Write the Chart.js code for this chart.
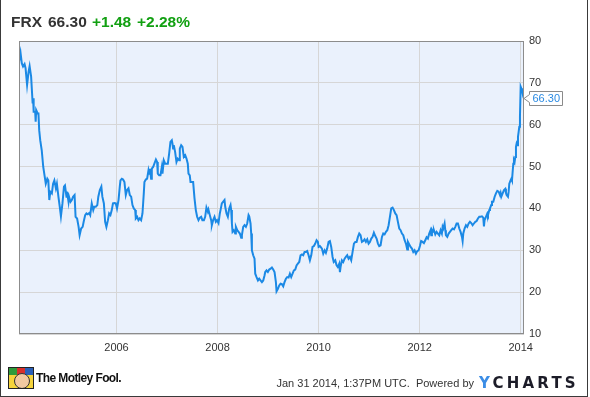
<!DOCTYPE html>
<html><head><meta charset="utf-8">
<script src="https://cdn.jsdelivr.net/npm/chart.js@4.4.1/dist/chart.umd.min.js"></script>
<style>
html,body{margin:0;padding:0;background:#fff;}
#wrap{position:relative;width:590px;height:397px;overflow:hidden;font-family:'Liberation Sans',Arial,Helvetica,sans-serif;}
#c{position:absolute;left:0;top:0;}
#frame{position:absolute;left:0;top:0;width:586px;height:396px;border-left:1px solid #3a3a3a;border-right:1px solid #3a3a3a;border-bottom:1px solid #3a3a3a;pointer-events:none;}
.hd{position:absolute;top:13.5px;font-size:15.5px;line-height:15.5px;font-weight:bold;white-space:nowrap;}
.dark{color:#333;}
.green{color:#12a012;}
#logo{position:absolute;left:8px;top:367px;width:24px;height:20px;border:1px solid #222;overflow:hidden;background:#f6d43c;}
#logo .a{position:absolute;left:0;top:0;width:8px;height:7px;background:#2f9a3a;}
#logo .b{position:absolute;left:8px;top:0;width:8px;height:7px;background:#d9302c;}
#logo .c{position:absolute;left:16px;top:0;width:8px;height:7px;background:#2a5fb8;}
#logo .f{position:absolute;left:5px;top:5px;width:14px;height:14px;border-radius:50%;background:#f2c9a0;border:1px solid #333;}
#fool{position:absolute;left:36px;top:371.5px;font-size:12px;line-height:12px;font-weight:bold;letter-spacing:-0.6px;color:#111;white-space:nowrap;}
#stamp{position:absolute;right:116px;top:378px;font-size:11px;line-height:11px;color:#333;white-space:nowrap;}
#yc{position:absolute;left:479px;top:375.5px;font-family:'DejaVu Sans',sans-serif;font-size:15px;line-height:15px;font-weight:bold;letter-spacing:3.2px;color:#1c1c28;white-space:nowrap;}
#yc .y{color:#3b8de6;}
</style>
</head><body>
<div id="wrap">
<canvas id="c" width="590" height="397"></canvas>
<span class="hd dark" style="left:11px">FRX</span>
<span class="hd dark" style="left:48px">66.30</span>
<span class="hd green" style="left:92px">+1.48</span>
<span class="hd green" style="left:137px">+2.28%</span>
<div id="logo"><div class="a"></div><div class="b"></div><div class="c"></div><div class="f"></div></div>
<span id="fool">The Motley Fool.</span>
<span id="stamp">Jan 31 2014, 1:37PM UTC.&nbsp; Powered by</span>
<span id="yc"><span class="y">Y</span>CHARTS</span>
<div id="frame"></div>
</div>
<script>
const dates = [
2004.07,2004.10,2004.125,2004.15,2004.18,2004.20,2004.23,2004.26,2004.28,2004.31,
2004.34,2004.35,2004.36,2004.39,2004.40,2004.41,2004.44,2004.455,2004.47,2004.49,
2004.52,2004.55,2004.57,2004.60,2004.63,2004.65,2004.67,2004.69,2004.72,2004.745,
2004.77,2004.80,2004.82,2004.85,2004.877,2004.90,2004.93,2004.96,2004.98,2005.01,
2005.02,2005.05,2005.06,2005.09,2005.115,2005.14,2005.17,2005.19,2005.22,2005.25,
2005.27,2005.30,2005.33,2005.35,2005.38,2005.405,2005.43,2005.46,2005.48,2005.51,
2005.54,2005.56,2005.59,2005.62,2005.64,2005.67,2005.70,2005.72,2005.75,2005.775,
2005.80,2005.83,2005.854,2005.88,2005.906,2005.93,2005.96,2005.986,2006.01,2006.04,
2006.065,2006.078,2006.105,2006.13,2006.157,2006.184,2006.21,2006.237,2006.263,2006.29,
2006.316,2006.342,2006.37,2006.382,2006.408,2006.435,2006.46,2006.487,2006.514,2006.54,
2006.553,2006.58,2006.606,2006.633,2006.646,2006.66,2006.685,2006.699,2006.725,2006.75,
2006.78,2006.804,2006.817,2006.844,2006.87,2006.897,2006.91,2006.936,2006.963,2006.989,
2007.016,2007.042,2007.068,2007.095,2007.108,2007.12,2007.134,2007.16,2007.187,2007.213,
2007.24,2007.253,2007.28,2007.306,2007.332,2007.36,2007.385,2007.411,2007.425,2007.45,
2007.465,2007.49,2007.517,2007.544,2007.57,2007.596,2007.623,2007.65,2007.676,2007.70,
2007.73,2007.755,2007.78,2007.808,2007.82,2007.847,2007.874,2007.887,2007.913,2007.94,
2007.966,2007.99,2008.019,2008.045,2008.059,2008.085,2008.112,2008.138,2008.152,2008.178,
2008.204,2008.231,2008.257,2008.27,2008.284,2008.297,2008.323,2008.35,2008.363,2008.39,
2008.416,2008.442,2008.468,2008.482,2008.508,2008.534,2008.561,2008.587,2008.614,2008.627,
2008.653,2008.666,2008.68,2008.706,2008.732,2008.746,2008.772,2008.8,2008.825,2008.851,
2008.878,2008.904,2008.93,2008.944,2008.97,2008.996,2009.023,2009.05,2009.076,2009.102,
2009.128,2009.155,2009.168,2009.195,2009.221,2009.247,2009.274,2009.3,2009.326,2009.353,
2009.379,2009.406,2009.432,2009.458,2009.485,2009.511,2009.538,2009.564,2009.59,2009.617,
2009.643,2009.67,2009.696,2009.722,2009.749,2009.775,2009.802,2009.828,2009.855,2009.88,
2009.907,2009.934,2009.96,2009.986,2010.0,2010.026,2010.04,2010.066,2010.092,2010.12,
2010.145,2010.17,2010.198,2010.224,2010.25,2010.277,2010.3,2010.33,2010.356,2010.38,
2010.409,2010.422,2010.435,2010.462,2010.488,2010.515,2010.54,2010.567,2010.594,2010.62,
2010.646,2010.673,2010.7,2010.726,2010.752,2010.779,2010.805,2010.831,2010.858,2010.884,
2010.91,2010.937,2010.963,2010.99,2011.016,2011.043,2011.069,2011.095,2011.122,2011.148,
2011.175,2011.2,2011.227,2011.254,2011.28,2011.307,2011.333,2011.36,2011.386,2011.412,
2011.438,2011.465,2011.491,2011.518,2011.544,2011.57,2011.597,2011.623,2011.65,2011.676,
2011.703,2011.729,2011.755,2011.769,2011.795,2011.821,2011.848,2011.874,2011.9,2011.927,
2011.953,2011.98,2012.006,2012.03,2012.059,2012.085,2012.112,2012.138,2012.164,2012.19,
2012.217,2012.23,2012.244,2012.27,2012.283,2012.31,2012.336,2012.362,2012.389,2012.415,
2012.44,2012.455,2012.468,2012.494,2012.508,2012.52,2012.547,2012.574,2012.6,2012.626,
2012.653,2012.68,2012.706,2012.732,2012.758,2012.785,2012.811,2012.838,2012.851,2012.864,
2012.89,2012.917,2012.943,2012.97,2012.996,2013.022,2013.049,2013.075,2013.102,2013.128,
2013.154,2013.18,2013.207,2013.234,2013.26,2013.273,2013.286,2013.313,2013.34,2013.353,
2013.379,2013.392,2013.418,2013.432,2013.458,2013.485,2013.511,2013.537,2013.564,2013.59,
2013.603,2013.617,2013.643,2013.67,2013.696,2013.709,2013.722,2013.749,2013.762,2013.775,
2013.8,2013.815,2013.828,2013.841,2013.854,2013.867,2013.88,2013.894,2013.907,2013.92,
2013.933,2013.947,2013.96,2013.973,2013.986,2014.0,2014.013,2014.026,2014.039,2014.052,
2014.066
];
const prices = [
75.1,77.2,74.7,73.9,74.5,73.5,69.5,72.7,74.0,71.5,
65.1,66.3,63.1,63.1,60.7,63.5,62.7,62.7,58.7,56.3,
53.9,49.9,48.3,45.9,47.1,46.7,42.0,44.0,43.6,45.9,
46.7,44.8,45.9,42.8,40.4,38.1,41.2,45.2,45.5,42.8,
44.0,41.6,42.8,41.6,42.0,42.8,43.2,38.0,37.6,35.6,
33.6,35.2,35.6,36.8,38.4,38.8,38.6,38.9,38.4,41.2,
39.6,40.4,40.4,40.8,42.8,44.4,45.2,42.8,41.2,36.8,
35.6,37.2,38.8,38.4,39.6,41.2,41.3,41.2,40.0,42.0,
45.2,46.7,47.1,46.9,46.3,43.2,44.4,44.8,43.2,42.8,
40.8,40.0,39.6,37.6,38.0,37.2,37.6,37.2,38.8,43.6,
46.3,46.9,47.1,49.1,48.3,49.5,47.1,49.5,49.9,50.7,
51.7,51.1,48.3,47.9,47.9,49.9,48.3,51.5,50.7,50.7,
50.7,53.1,55.9,56.3,55.5,54.3,55.1,53.5,51.1,51.9,
51.5,54.3,55.1,54.7,52.3,52.7,51.9,50.7,48.3,47.9,
46.3,46.3,46.3,42.4,39.6,38.0,37.2,37.8,38.0,37.2,
37.2,38.0,40.2,39.2,39.7,38.4,37.2,36.0,37.2,38.0,
36.8,37.2,36.5,38.8,39.6,41.2,41.6,42.0,40.4,38.8,
38.0,40.0,40.8,39.6,36.4,34.4,34.8,34.0,35.6,34.8,
34.4,34.0,33.0,33.6,35.6,36.0,35.6,36.4,38.4,38.1,
36.4,34.0,30.0,28.8,28.0,24.4,23.6,22.8,23.2,22.8,
22.4,22.8,24.0,24.8,25.2,24.8,25.4,25.6,25.9,25.4,
24.8,22.4,20.2,20.8,21.6,22.0,21.9,21.4,22.4,23.2,
23.6,23.5,24.4,23.6,24.4,25.2,25.4,26.4,26.8,27.2,
28.8,29.0,28.8,29.6,29.6,29.8,28.8,27.6,28.8,30.8,
31.0,31.6,32.4,32.0,30.8,31.0,30.8,30.4,29.2,30.0,
29.4,30.4,32.0,32.2,30.8,28.4,27.2,27.6,26.4,26.0,
26.8,24.8,26.0,27.6,27.2,28.0,28.4,28.8,28.0,28.4,
27.6,29.6,31.6,32.0,32.0,33.2,34.0,33.6,32.0,32.2,
32.6,32.0,32.6,31.6,32.0,32.8,33.2,34.2,33.4,32.8,
31.6,31.0,31.2,33.2,34.0,33.8,34.4,34.8,36.0,38.0,
40.0,40.2,39.6,38.8,38.4,36.8,35.2,34.8,34.0,33.6,
32.4,31.6,30.2,32.0,31.4,30.8,30.4,29.6,30.0,29.2,
29.8,30.0,31.0,32.2,32.0,31.7,32.4,33.1,32.8,34.0,
34.8,33.6,34.9,34.4,34.8,33.8,34.4,34.0,33.6,34.8,
34.0,35.6,35.2,36.4,34.8,33.6,33.2,34.0,34.4,34.8,
35.2,35.0,35.6,36.4,36.4,35.2,34.4,33.2,32.2,34.0,
35.2,36.0,35.6,36.4,36.8,36.5,36.0,36.4,36.8,37.0,
37.6,38.0,38.0,38.1,37.8,35.7,37.2,38.0,38.8,38.4,
39.6,40.0,40.8,41.6,41.6,42.8,43.6,44.2,44.0,43.2,
43.7,42.8,43.6,44.4,44.7,43.7,43.2,42.8,44.0,45.9,
46.7,47.1,46.7,48.7,50.7,51.5,51.1,52.3,54.7,55.5,
55.1,57.1,58.3,59.5,61.9,69.1,68.7,68.3,67.5,66.7,
66.3
];
const xTicks = [2006, 2008, 2010, 2012, 2014];
const yTicks = [10, 20, 30, 40, 50, 60, 70, 80];

const points = dates.map((d, i) => ({x: d, y: prices[i]}));

const plotBg = {
  id: 'plotBg',
  beforeDraw(chart) {
    const {ctx, chartArea: a} = chart;
    ctx.save();
    ctx.fillStyle = '#eaf1fc';
    ctx.fillRect(a.left, a.top, a.right - a.left, a.bottom - a.top);
    ctx.restore();
  },
  afterDatasetsDraw(chart) {
    const {ctx, chartArea: a} = chart;
    ctx.save();
    ctx.strokeStyle = '#8c8c8c';
    ctx.lineWidth = 1;
    ctx.strokeRect(Math.round(a.left) + 0.5, Math.round(a.top) + 0.5,
      Math.round(a.right - a.left) - 1, Math.round(a.bottom - a.top) - 1);
    ctx.restore();
  },
  afterDraw(chart) {
    const {ctx, chartArea: a} = chart;
    const last = prices[prices.length - 1];
    const y = Math.round(chart.scales.y.getPixelForValue(last)) + 0.5;
    const x0 = Math.round(a.right);
    const bx = x0 + 5.5, bw = 33, hh = 7;
    ctx.save();
    ctx.beginPath();
    ctx.moveTo(x0, y);
    ctx.lineTo(bx, y - 4);
    ctx.lineTo(bx, y - hh);
    ctx.lineTo(bx + bw, y - hh);
    ctx.lineTo(bx + bw, y + hh);
    ctx.lineTo(bx, y + hh);
    ctx.lineTo(bx, y + 4);
    ctx.closePath();
    ctx.fillStyle = '#ffffff';
    ctx.fill();
    ctx.strokeStyle = '#8a8a8a';
    ctx.lineWidth = 1;
    ctx.stroke();
    ctx.fillStyle = '#2a8ae2';
    ctx.font = '11px "Liberation Sans", Arial, sans-serif';
    ctx.textBaseline = 'middle';
    ctx.textAlign = 'left';
    ctx.fillText(last.toFixed(2), bx + 3, y + 0.5);
    ctx.restore();
  }
};

new Chart(document.getElementById('c'), {
  type: 'line',
  data: {
    datasets: [{
      data: points,
      borderColor: 'rgb(27,137,229)',
      borderWidth: 2,
      pointRadius: 0,
      tension: 0,
      fill: false
    }]
  },
  options: {
    responsive: false,
    animation: false,
    events: [],
    layout: {padding: {left: 19, top: 41, right: 0, bottom: 0}},
    plugins: {legend: {display: false}, tooltip: {enabled: false}},
    scales: {
      x: {
        type: 'linear',
        min: dates[0],
        max: dates[dates.length - 1],
        afterBuildTicks(scale) { scale.ticks = xTicks.map(v => ({value: v})); },
        afterFit(scale) { scale.height = 63; },
        grid: {color: '#d6d6d6', drawTicks: false},
        border: {display: false},
        ticks: {
          padding: 7,
          color: '#333',
          font: {family: '"Liberation Sans", Arial, sans-serif', size: 11},
          maxRotation: 0,
          callback: v => String(v)
        }
      },
      y: {
        position: 'right',
        min: 10,
        max: 80,
        afterBuildTicks(scale) { scale.ticks = yTicks.map(v => ({value: v})); },
        afterFit(scale) { scale.width = 66; },
        grid: {color: '#d6d6d6', drawTicks: false},
        border: {display: false},
        ticks: {
          padding: 5,
          color: '#333',
          font: {family: '"Liberation Sans", Arial, sans-serif', size: 11},
          callback: v => String(v)
        }
      }
    }
  },
  plugins: [plotBg]
});
</script>
</body></html>
